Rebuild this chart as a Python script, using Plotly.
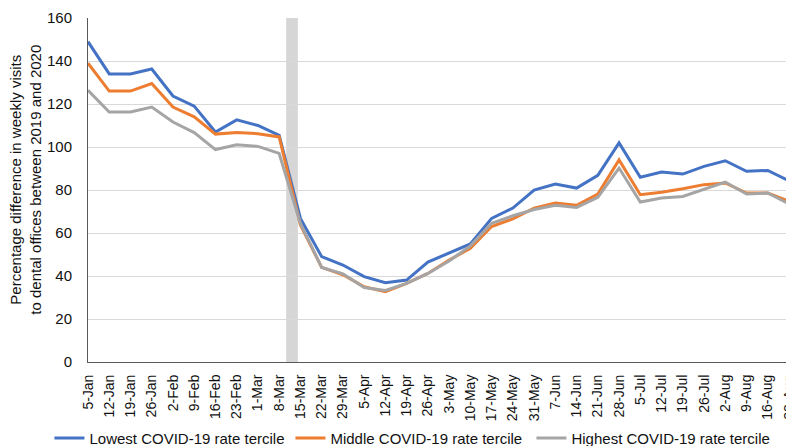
import plotly.graph_objects as go

# weekly labels, 2020
weeks = [
    "5-Jan", "12-Jan", "19-Jan", "26-Jan", "2-Feb", "9-Feb", "16-Feb", "23-Feb",
    "1-Mar", "8-Mar", "15-Mar", "22-Mar", "29-Mar", "5-Apr", "12-Apr", "19-Apr",
    "26-Apr", "3-May", "10-May", "17-May", "24-May", "31-May", "7-Jun", "14-Jun",
    "21-Jun", "28-Jun", "5-Jul", "12-Jul", "19-Jul", "26-Jul", "2-Aug", "9-Aug",
    "16-Aug", "23-Aug",
]

lowest = [
    149, 134, 134, 136.3, 123.7, 119, 107, 112.6, 110, 105.4,
    66.8, 49, 45.1, 39.7, 36.9, 38.1, 46.5, 50.8, 54.9, 66.8,
    71.6, 80, 82.8, 80.9, 86.8, 101.9, 85.9, 88.4, 87.4, 91,
    93.6, 88.7, 89.1, 84.3,
]
middle = [
    139, 126, 126, 129.5, 118.6, 114, 106, 106.7, 106.2, 104.7,
    63.7, 44, 40.6, 35, 32.7, 36.6, 41.2, 47.4, 52.9, 63,
    66.6, 71.6, 74, 72.9, 78.1, 94, 77.8, 79, 80.6, 82.5,
    83.3, 78.6, 78.6, 74.7,
]
highest = [
    126.4, 116.3, 116.3, 118.6, 111.6, 106.7, 98.8, 101, 100.3, 97,
    64.5, 44, 41, 34.6, 33.3, 36.6, 41.2, 47, 54, 64.5,
    68, 70.9, 72.9, 71.9, 76.6, 90.2, 74.4, 76.3, 77, 80.2,
    83.7, 78.1, 78.6, 73.5,
]

series_names = [
    "Lowest COVID-19 rate tercile",
    "Middle COVID-19 rate tercile",
    "Highest COVID-19 rate tercile",
]
series_colors = ["#4472C4", "#ED7D31", "#A5A5A5"]

# shaded marker sits between these two weeks
shade_after = "8-Mar"

FONT = "Liberation Sans, Arial, sans-serif"
x_idx = list(range(len(weeks)))

fig = go.Figure()

s = weeks.index(shade_after)
fig.add_shape(
    type="rect", xref="x", yref="y",
    x0=s + 0.33, x1=s + 0.88, y0=0, y1=160,
    fillcolor="#D6D6D6", line_width=0, layer="below",
)

for name, vals, color in zip(series_names, [lowest, middle, highest], series_colors):
    fig.add_trace(go.Scatter(
        x=x_idx, y=vals, name=name, mode="lines",
        line=dict(color=color, width=3),
    ))

fig.update_layout(
    width=794, height=446,
    margin=dict(l=80, r=13, t=10, b=92, autoexpand=False),
    plot_bgcolor="white", paper_bgcolor="white",
    font=dict(family=FONT, size=15, color="#111111"),
    legend=dict(
        orientation="h", x=-0.055, xanchor="left",
        y=-0.222, yanchor="middle",
        font=dict(size=15), itemwidth=30, bgcolor="rgba(0,0,0,0)",
        entrywidth=196, entrywidthmode="pixels",
    ),
    showlegend=True,
)

fig.update_xaxes(
    range=[0, len(weeks) - 1],
    tickvals=x_idx, ticktext=weeks, tickangle=-90,
    showgrid=False, showline=True, linecolor="#595959", linewidth=1,
    ticks="", ticklabelstandoff=6, zeroline=False, automargin=False,
    tickfont=dict(size=14),
)
fig.update_yaxes(
    range=[0, 160], dtick=20,
    showgrid=True, gridcolor="#D9D9D9", gridwidth=1,
    showline=True, linecolor="#595959", linewidth=1,
    ticks="", ticklabelstandoff=12, zeroline=False, automargin=False,
    tickfont=dict(size=15),
)

fig.add_annotation(
    text="Percentage difference in weekly visits<br>to dental offices between 2019 and 2020",
    xref="paper", yref="paper", x=0, y=0.53, xshift=-62, showarrow=False,
    textangle=-90, xanchor="center", yanchor="middle",
    font=dict(family=FONT, size=15, color="#111111"),
)

fig.write_html("out.html")
